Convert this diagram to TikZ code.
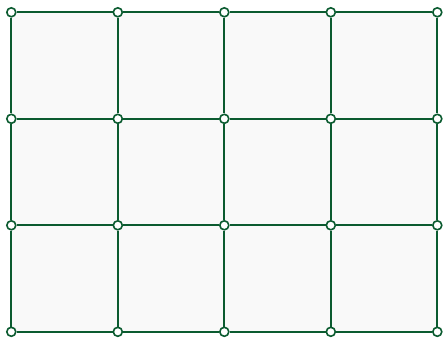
\documentclass[tikz,border=0pt]{standalone}
\usepackage{tikz}
\usetikzlibrary{positioning}
\definecolor{pine}{HTML}{0B5B30}
\definecolor{cellgray}{HTML}{F9F9F9}

\begin{document}
\begin{tikzpicture}[
  x=1pt,y=1pt,
  dot/.style={circle,draw=pine,fill=white,line width=1.6pt,inner sep=0pt,minimum size=9pt},
  link/.style={pine,line width=2pt},
]
\useasboundingbox (0,0) rectangle (443,337);
% CELL FILL
\fill[cellgray] (11.3,324.7) rectangle (437.3,5.2);

% NODES (column i, row j from top)
\foreach \i in {0,...,4}{
  \foreach \j in {0,...,3}{
    \node[dot] (n-\i-\j) at ({11.3+106.5*\i},{324.7-106.5*\j}) {};
  }
}

% EDGES
\foreach \i in {0,...,4}{
  \foreach \j [count=\k] in {0,...,2}{
    \draw[link] (n-\i-\j) -- (n-\i-\k);
  }
}
\foreach \j in {0,...,3}{
  \foreach \i [count=\k] in {0,...,3}{
    \draw[link] (n-\i-\j) -- (n-\k-\j);
  }
}
\end{tikzpicture}
\end{document}
